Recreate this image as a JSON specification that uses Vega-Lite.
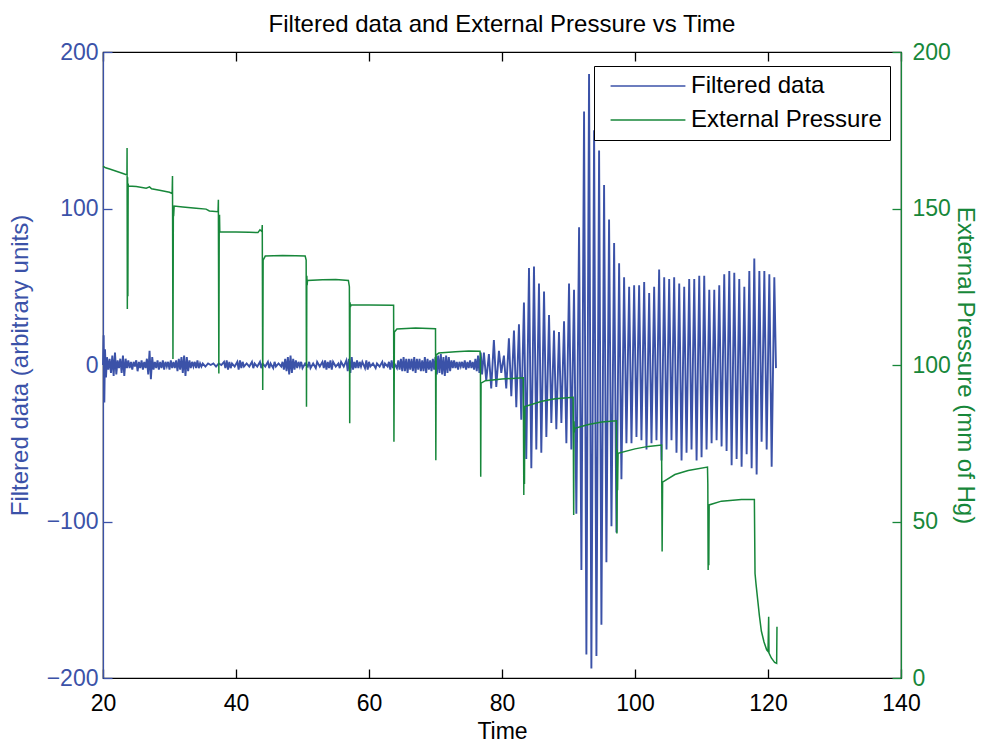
{
"$schema": "https://vega.github.io/schema/vega-lite/v6.json",
"width": 798, "height": 626,
"autosize": "none",
"padding": {"left": 103, "top": 52, "right": 84, "bottom": 69},
"background": "white",
"config": {"font": "Liberation Sans", "view": {"stroke": "black", "strokeWidth": 1.2}},
"title": {"text": "Filtered data and External Pressure vs Time", "fontSize": 24, "fontWeight": "normal", "color": "black", "offset": 4, "font": "Liberation Sans"},
"datasets": {
"filtered": [
{"t":20.0,"v":0},{"t":20.1,"v":19},{"t":20.2,"v":-24},{"t":20.3,"v":10},{"t":20.45,"v":-8},{"t":20.6,"v":5},{"t":20.8,"v":-3},{"t":21.0,"v":4},{"t":21.2,"v":-5},{"t":21.4,"v":6},{"t":21.6,"v":-7},{"t":21.8,"v":8},{"t":22.0,"v":-6},{"t":22.2,"v":3},{"t":22.4,"v":-2},{"t":22.6,"v":4},{"t":22.8,"v":-5},{"t":23.0,"v":6},{"t":23.2,"v":-7},{"t":23.4,"v":4},{"t":23.6,"v":-2},{"t":23.8,"v":3},{"t":24.0,"v":-2},{"t":24.2,"v":2},{"t":24.4,"v":-3},{"t":24.6,"v":2},{"t":24.8,"v":-1},{"t":25.0,"v":3},{"t":25.2,"v":-4},{"t":25.4,"v":2},{"t":25.6,"v":-2},{"t":25.8,"v":3},{"t":26.0,"v":-3},{"t":26.2,"v":2},{"t":26.4,"v":-2},{"t":26.6,"v":4},{"t":26.8,"v":-6},{"t":27.0,"v":9},{"t":27.2,"v":-9},{"t":27.4,"v":5},{"t":27.6,"v":-3},{"t":27.8,"v":2},{"t":28.0,"v":-2},{"t":28.2,"v":3},{"t":28.4,"v":-3},{"t":28.6,"v":2},{"t":28.8,"v":-2},{"t":29.0,"v":3},{"t":29.2,"v":-3},{"t":29.4,"v":2},{"t":29.6,"v":-1},{"t":29.8,"v":2},{"t":30.0,"v":-3},{"t":30.2,"v":3},{"t":30.4,"v":-2},{"t":30.6,"v":2},{"t":30.8,"v":-2},{"t":31.0,"v":3},{"t":31.2,"v":-4},{"t":31.4,"v":4},{"t":31.6,"v":-3},{"t":31.8,"v":5},{"t":32.0,"v":-5},{"t":32.2,"v":6},{"t":32.4,"v":-7},{"t":32.6,"v":5},{"t":32.8,"v":-4},{"t":33.0,"v":3},{"t":33.2,"v":-2},{"t":33.4,"v":2},{"t":33.6,"v":-1},{"t":33.8,"v":2},{"t":34.0,"v":-2},{"t":34.2,"v":3},{"t":34.4,"v":-2},{"t":34.6,"v":1},{"t":34.8,"v":-1},{"t":35.0,"v":1},{"t":35.4,"v":-1},{"t":35.8,"v":1},{"t":36.2,"v":0},{"t":36.6,"v":1},{"t":37.0,"v":-1},{"t":37.4,"v":1},{"t":37.8,"v":0},{"t":38.2,"v":2},{"t":38.4,"v":-2},{"t":38.6,"v":3},{"t":38.8,"v":-3},{"t":39.0,"v":2},{"t":39.2,"v":-2},{"t":39.4,"v":1},{"t":39.8,"v":-1},{"t":40.2,"v":2},{"t":40.4,"v":-3},{"t":40.6,"v":3},{"t":40.8,"v":-2},{"t":41.0,"v":2},{"t":41.2,"v":-1},{"t":41.6,"v":1},{"t":42.0,"v":-1},{"t":42.4,"v":2},{"t":42.6,"v":-2},{"t":42.8,"v":1},{"t":43.2,"v":-1},{"t":43.6,"v":2},{"t":43.8,"v":-2},{"t":44.0,"v":1},{"t":44.4,"v":-1},{"t":44.8,"v":2},{"t":45.0,"v":-2},{"t":45.2,"v":1},{"t":45.6,"v":-2},{"t":45.8,"v":2},{"t":46.0,"v":-1},{"t":46.4,"v":1},{"t":46.8,"v":-1},{"t":47.0,"v":2},{"t":47.2,"v":-3},{"t":47.4,"v":4},{"t":47.6,"v":-4},{"t":47.8,"v":5},{"t":48.0,"v":-6},{"t":48.2,"v":6},{"t":48.4,"v":-5},{"t":48.6,"v":4},{"t":48.8,"v":-3},{"t":49.0,"v":3},{"t":49.2,"v":-2},{"t":49.4,"v":2},{"t":49.6,"v":-1},{"t":49.8,"v":2},{"t":50.0,"v":-2},{"t":50.4,"v":1},{"t":50.8,"v":-1},{"t":51.0,"v":2},{"t":51.2,"v":-2},{"t":51.6,"v":1},{"t":52.0,"v":-2},{"t":52.2,"v":2},{"t":52.6,"v":-1},{"t":53.0,"v":2},{"t":53.2,"v":-2},{"t":53.4,"v":3},{"t":53.6,"v":-3},{"t":53.8,"v":2},{"t":54.0,"v":-2},{"t":54.2,"v":3},{"t":54.4,"v":-3},{"t":54.6,"v":2},{"t":55.0,"v":-1},{"t":55.4,"v":1},{"t":55.6,"v":-2},{"t":55.8,"v":2},{"t":56.2,"v":-1},{"t":56.6,"v":3},{"t":56.8,"v":-4},{"t":57.0,"v":4},{"t":57.2,"v":-5},{"t":57.4,"v":5},{"t":57.6,"v":-3},{"t":57.8,"v":2},{"t":58.0,"v":-2},{"t":58.2,"v":3},{"t":58.4,"v":-2},{"t":58.6,"v":2},{"t":58.8,"v":-1},{"t":59.0,"v":2},{"t":59.4,"v":-2},{"t":59.6,"v":3},{"t":59.8,"v":-3},{"t":60.0,"v":2},{"t":60.2,"v":-1},{"t":60.6,"v":1},{"t":61.0,"v":-2},{"t":61.2,"v":1},{"t":61.6,"v":-1},{"t":62.0,"v":2},{"t":62.2,"v":-2},{"t":62.4,"v":1},{"t":62.8,"v":-1},{"t":63.0,"v":2},{"t":63.2,"v":-3},{"t":63.4,"v":3},{"t":63.6,"v":-2},{"t":63.8,"v":1},{"t":64.2,"v":-2},{"t":64.4,"v":3},{"t":64.6,"v":-3},{"t":64.8,"v":4},{"t":65.0,"v":-4},{"t":65.2,"v":5},{"t":65.4,"v":-4},{"t":65.6,"v":4},{"t":65.8,"v":-5},{"t":66.0,"v":4},{"t":66.2,"v":-3},{"t":66.4,"v":4},{"t":66.6,"v":-4},{"t":66.8,"v":5},{"t":67.0,"v":-5},{"t":67.2,"v":4},{"t":67.4,"v":-3},{"t":67.6,"v":4},{"t":67.8,"v":-4},{"t":68.0,"v":3},{"t":68.2,"v":-4},{"t":68.4,"v":5},{"t":68.6,"v":-5},{"t":68.8,"v":4},{"t":69.0,"v":-3},{"t":69.2,"v":3},{"t":69.4,"v":-4},{"t":69.6,"v":4},{"t":69.8,"v":-3},{"t":70.0,"v":5},{"t":70.2,"v":-6},{"t":70.4,"v":6},{"t":70.6,"v":-5},{"t":70.8,"v":7},{"t":71.0,"v":-6},{"t":71.2,"v":5},{"t":71.4,"v":-7},{"t":71.6,"v":6},{"t":71.8,"v":-5},{"t":72.0,"v":5},{"t":72.2,"v":-4},{"t":72.4,"v":3},{"t":72.6,"v":-2},{"t":72.8,"v":3},{"t":73.0,"v":-2},{"t":73.2,"v":2},{"t":73.4,"v":-3},{"t":73.6,"v":2},{"t":73.8,"v":-1},{"t":74.0,"v":2},{"t":74.2,"v":-2},{"t":74.4,"v":3},{"t":74.6,"v":-3},{"t":74.8,"v":2},{"t":75.0,"v":-2},{"t":75.2,"v":3},{"t":75.4,"v":-2},{"t":75.6,"v":2},{"t":75.8,"v":-3},{"t":76.0,"v":4},{"t":76.2,"v":-4},{"t":76.4,"v":6},{"t":76.6,"v":-5},{"t":76.8,"v":8},{"t":77.0,"v":-6},
{"t":77.28,"v":8},{"t":77.63,"v":-10},{"t":78.03,"v":7},{"t":78.38,"v":-15},{"t":78.78,"v":16},{"t":79.14,"v":-14},{"t":79.54,"v":9},{"t":79.89,"v":-5},{"t":80.29,"v":6},{"t":80.64,"v":-15},{"t":81.04,"v":17},{"t":81.4,"v":-20},{"t":81.8,"v":22},{"t":82.15,"v":-27},{"t":82.55,"v":26},{"t":82.9,"v":-35},{"t":83.3,"v":40},{"t":83.65,"v":-60},{"t":84.06,"v":62},{"t":84.41,"v":-66},{"t":84.81,"v":63},{"t":85.16,"v":-54},{"t":85.56,"v":52},{"t":85.91,"v":-56},{"t":86.32,"v":47},{"t":86.67,"v":-46},{"t":87.07,"v":32},{"t":87.42,"v":-37},{"t":87.82,"v":22},{"t":88.17,"v":-41},{"t":88.57,"v":21},{"t":88.93,"v":-37},{"t":89.33,"v":28},{"t":89.68,"v":-50},{"t":90.08,"v":52},{"t":90.43,"v":-54},{"t":90.83,"v":48},{"t":91.18,"v":-95},{"t":91.59,"v":88},{"t":91.94,"v":-131},{"t":92.34,"v":162},{"t":92.69,"v":-185},{"t":93.09,"v":186},{"t":93.44,"v":-194},{"t":93.85,"v":150},{"t":94.2,"v":-186},{"t":94.6,"v":137},{"t":94.95,"v":-166},{"t":95.35,"v":115},{"t":95.7,"v":-126},{"t":96.1,"v":93},{"t":96.46,"v":-103},{"t":96.86,"v":78},{"t":97.21,"v":-107},{"t":97.61,"v":65},{"t":97.96,"v":-73},{"t":98.36,"v":56},{"t":98.71,"v":-50},{"t":99.12,"v":50},{"t":99.47,"v":-50},{"t":99.87,"v":51},{"t":100.22,"v":-46},{"t":100.62,"v":51},{"t":100.97,"v":-48},{"t":101.38,"v":53},{"t":101.73,"v":-54},{"t":102.13,"v":46},{"t":102.48,"v":-50},{"t":102.88,"v":50},{"t":103.23,"v":-48},{"t":103.63,"v":61},{"t":103.98,"v":-61},{"t":104.39,"v":56},{"t":104.74,"v":-54},{"t":105.14,"v":55},{"t":105.49,"v":-48},{"t":105.89,"v":56},{"t":106.24,"v":-56},{"t":106.65,"v":52},{"t":107.0,"v":-61},{"t":107.4,"v":50},{"t":107.75,"v":-56},{"t":108.15,"v":55},{"t":108.5,"v":-54},{"t":108.91,"v":55},{"t":109.26,"v":-61},{"t":109.66,"v":57},{"t":110.01,"v":-59},{"t":110.41,"v":57},{"t":110.76,"v":-54},{"t":111.17,"v":48},{"t":111.52,"v":-50},{"t":111.92,"v":48},{"t":112.27,"v":-48},{"t":112.67,"v":51},{"t":113.02,"v":-52},{"t":113.42,"v":58},{"t":113.77,"v":-55},{"t":114.18,"v":60},{"t":114.53,"v":-64},{"t":114.93,"v":59},{"t":115.28,"v":-60},{"t":115.68,"v":55},{"t":116.03,"v":-65},{"t":116.44,"v":50},{"t":116.79,"v":-57},{"t":117.19,"v":60},{"t":117.54,"v":-66},{"t":117.94,"v":68},{"t":118.29,"v":-70},{"t":118.7,"v":60},{"t":119.04,"v":-49},{"t":119.45,"v":60},{"t":119.8,"v":-54},{"t":120.2,"v":58},{"t":120.55,"v":-65},{"t":120.95,"v":56},{"t":121.2,"v":-2}
],
"pressure": [
{"t":20.0,"p":163.5},{"t":20.4,"p":163.0},{"t":21.0,"p":162.6},{"t":22.0,"p":161.9},{"t":23.0,"p":161.2},{"t":23.6,"p":160.7},{"t":23.62,"p":169.3},{"t":23.66,"p":117.9},{"t":23.7,"p":160},{"t":23.74,"p":122},{"t":23.78,"p":158},{"t":23.82,"p":157.2},{"t":25.0,"p":157.0},{"t":26.5,"p":156.5},{"t":27.0,"p":156.9},{"t":27.3,"p":156.3},{"t":28.5,"p":155.8},{"t":30.0,"p":155.2},{"t":30.4,"p":154.8},{"t":30.45,"p":160.4},{"t":30.52,"p":101.9},{"t":30.58,"p":150.6},{"t":30.62,"p":147.5},{"t":30.7,"p":150.8},{"t":32.0,"p":150.5},{"t":34.0,"p":150.1},{"t":35.5,"p":149.8},{"t":36.0,"p":149.2},{"t":37.3,"p":149.0},{"t":37.35,"p":152.8},{"t":37.42,"p":97.3},{"t":37.48,"p":146},{"t":37.52,"p":148},{"t":37.56,"p":142.5},{"t":40.0,"p":142.5},{"t":42.0,"p":142.4},{"t":43.3,"p":142.3},{"t":43.6,"p":143.2},{"t":43.9,"p":142.6},{"t":43.95,"p":144.7},{"t":44.02,"p":92},{"t":44.08,"p":133.5},{"t":44.4,"p":134.8},{"t":47.0,"p":135.0},{"t":49.0,"p":134.9},{"t":50.4,"p":134.8},{"t":50.55,"p":133.5},{"t":50.6,"p":86.7},{"t":50.65,"p":128.5},{"t":50.7,"p":125.5},{"t":50.75,"p":127},{"t":53.0,"p":127.2},{"t":55.0,"p":127.3},{"t":56.9,"p":127.0},{"t":57.05,"p":125},{"t":57.1,"p":81.4},{"t":57.15,"p":120},{"t":57.2,"p":118.5},{"t":57.3,"p":119.2},{"t":60.0,"p":119.2},{"t":63.7,"p":119.1},{"t":63.75,"p":75.5},{"t":63.82,"p":110.5},{"t":64.2,"p":111.5},{"t":67.0,"p":111.8},{"t":70.0,"p":111.6},{"t":70.05,"p":69.6},{"t":70.1,"p":103.2},{"t":70.5,"p":103.8},{"t":73.0,"p":104.2},{"t":75.0,"p":104.5},{"t":76.7,"p":104.4},{"t":76.75,"p":103},{"t":76.8,"p":64.3},{"t":76.85,"p":94.2},{"t":77.5,"p":95},{"t":80.0,"p":95.5},{"t":83.2,"p":95.9},{"t":83.28,"p":58.5},{"t":83.33,"p":87},{"t":83.38,"p":62},{"t":83.43,"p":86.7},{"t":86.0,"p":88.4},{"t":88.0,"p":89.2},{"t":90.7,"p":89.7},{"t":90.78,"p":52.1},{"t":90.83,"p":82},{"t":90.88,"p":78.5},{"t":90.95,"p":79.8},{"t":93.0,"p":81.0},{"t":95.0,"p":81.8},{"t":97.2,"p":82.2},{"t":97.28,"p":46.2},{"t":97.33,"p":73},{"t":97.38,"p":60},{"t":97.45,"p":71.8},{"t":100.0,"p":73.2},{"t":102.0,"p":74.0},{"t":104.0,"p":74.4},{"t":104.08,"p":40.4},{"t":104.15,"p":62.6},{"t":106.0,"p":65.0},{"t":108.0,"p":66.3},{"t":110.9,"p":67.4},{"t":110.95,"p":62},{"t":111.0,"p":34.5},{"t":111.05,"p":55},{"t":111.1,"p":36},{"t":111.15,"p":55.3},{"t":113.0,"p":56.5},{"t":116.0,"p":57.0},{"t":117.95,"p":57.0},{"t":118.05,"p":33.4},{"t":118.2,"p":30},{"t":118.5,"p":24},{"t":118.7,"p":20},{"t":119.0,"p":15},{"t":119.4,"p":11.5},{"t":119.8,"p":9},{"t":120.0,"p":8.5},{"t":120.1,"p":19.6},{"t":120.15,"p":8},{"t":120.5,"p":6.4},{"t":121.0,"p":5},{"t":121.3,"p":4.7},{"t":121.35,"p":16.4}
]
},
"layer": [
{
"data": {"name": "filtered"},
"mark": {"type": "line", "strokeWidth": 1.9},
"encoding": {
"x": {"field": "t", "type": "quantitative", "scale": {"domain": [20, 140], "nice": false, "zero": false},
 "axis": {"orient": "bottom", "values": [20, 40, 60, 80, 100, 120, 140], "tickSize": -9, "tickColor": "black", "tickWidth": 1.3, "domainColor": "black", "domainWidth": 1.2, "labelColor": "black", "labelFontSize": 23, "labelPadding": 23, "labelFlush": false, "labelOverlap": false, "grid": false, "title": "Time", "titleFontSize": 23, "titleFontWeight": "normal", "titleColor": "black", "titlePadding": 5}},
"y": {"field": "v", "type": "quantitative", "scale": {"domain": [-200, 200], "nice": false, "zero": false},
 "axis": {"orient": "left", "values": [-200, -100, 0, 100, 200], "tickSize": -9, "tickColor": "#3b52a8", "tickWidth": 1.3, "domainColor": "#3b52a8", "domainWidth": 1.2, "labelColor": "#3b52a8", "labelFontSize": 23, "labelPadding": 14, "labelFlush": false, "labelOverlap": false, "grid": false, "title": "Filtered data (arbitrary units)", "titleFontSize": 24, "titleFontWeight": "normal", "titleColor": "#3b52a8", "titlePadding": 14}},
"color": {"datum": "Filtered data", "type": "nominal", "scale": {"domain": ["Filtered data", "External Pressure"], "range": ["#3b52a8", "#17873a"]},
 "legend": {"title": null, "orient": "none", "legendX": 491, "legendY": 14, "symbolType": "M-4,0H4", "symbolSize": 350, "symbolStrokeWidth": 1.6, "symbolOffset": 34, "labelFontSize": 24, "labelColor": "black", "labelOffset": 31, "labelLimit": 400, "strokeColor": "black", "fillColor": "white", "padding": 8, "rowPadding": 10}}
}
},
{
"data": {"name": "pressure"},
"mark": {"type": "line", "strokeWidth": 1.5},
"encoding": {
"x": {"field": "t", "type": "quantitative", "scale": {"domain": [20, 140], "nice": false, "zero": false},
 "axis": {"orient": "top", "values": [20, 40, 60, 80, 100, 120, 140], "tickSize": -9, "tickColor": "black", "tickWidth": 1.3, "domainColor": "black", "domainWidth": 1.2, "labels": false, "grid": false, "title": null}},
"y": {"field": "p", "type": "quantitative", "scale": {"domain": [0, 200], "nice": false, "zero": false},
 "axis": {"orient": "right", "values": [0, 50, 100, 150, 200], "tickSize": -9, "tickColor": "#17873a", "tickWidth": 1.3, "domainColor": "#17873a", "domainWidth": 1.2, "labelColor": "#17873a", "labelFontSize": 23, "labelPadding": 20, "labelFlush": false, "labelOverlap": false, "grid": false, "title": "External Pressure (mm of Hg)", "titleFontSize": 24, "titleFontWeight": "normal", "titleColor": "#17873a", "titlePadding": 2}},
"color": {"datum": "External Pressure", "type": "nominal"}
}
}
],
"resolve": {"scale": {"y": "independent"}, "axis": {"x": "independent"}}
}
